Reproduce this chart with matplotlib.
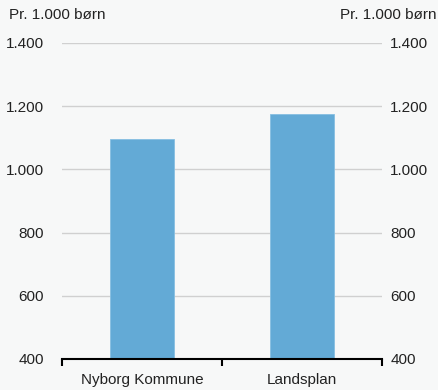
import matplotlib.pyplot as plt

plt.rcParams['font.family'] = ['Liberation Sans', 'DejaVu Sans']

# Data
categories = ['Nyborg Kommune', 'Landsplan']
values = [1095, 1175]
yticks = [400, 600, 800, 1000, 1200, 1400]
ytick_labels = ['400', '600', '800', '1.000', '1.200', '1.400']
unit_label = 'Pr. 1.000 børn'

bg = '#f7f8f8'
bar_color = '#63aad6'
txt = '#222222'
fs = 11

fig = plt.figure(figsize=(4.38, 3.9), dpi=100, facecolor=bg)
ax = fig.add_axes([62 / 438, 1 - 359 / 390, 320 / 438, 316 / 390])
ax.set_facecolor(bg)

x = list(range(len(categories)))
ax.bar(x, values, width=0.4, color=bar_color, edgecolor='#86bfe2', linewidth=0.6, zorder=3)

ax.set_xlim(-0.5, len(categories) - 0.5)
ax.set_ylim(400, 1400)
ax.set_yticks(yticks)
ax.set_yticklabels(ytick_labels)
ax.set_xticks(x)
ax.set_xticklabels(categories)
ax.set_xticks([-0.5, 0.5, 1.5], minor=True)

ax.grid(axis='y', color='#d0d0d0', linewidth=1, zorder=0)
for s in ['top', 'left', 'right']:
    ax.spines[s].set_visible(False)
ax.spines['bottom'].set_color('black')
ax.spines['bottom'].set_linewidth(1.5)
ax.spines['bottom'].set_zorder(4)

ax.tick_params(axis='y', length=0, pad=13, labelsize=fs, labelcolor=txt)
ax.tick_params(axis='x', which='major', length=0, pad=10, labelsize=fs, labelcolor=txt)
ax.tick_params(axis='x', which='minor', length=5, width=1.5, color='black')

ax2 = ax.twinx()
ax2.set_ylim(400, 1400)
ax2.set_yticks(yticks)
ax2.set_yticklabels(ytick_labels)
ax2.tick_params(axis='y', length=0, pad=6, labelsize=fs, labelcolor=txt)
for s in ax2.spines.values():
    s.set_visible(False)

fig.text(9 / 438, 1 - 15 / 390, unit_label, ha='left', va='center', fontsize=fs, color=txt)
fig.text(436 / 438, 1 - 15 / 390, unit_label, ha='right', va='center', fontsize=fs, color=txt)

fig.savefig('out.png', dpi=100, facecolor=bg)
